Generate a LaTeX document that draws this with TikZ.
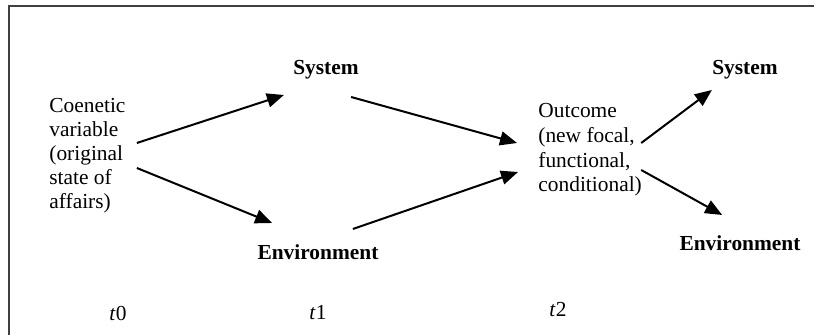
\documentclass[tikz,border=0pt]{standalone}
\usepackage{fontspec}
\setmainfont{Liberation Serif}
\usetikzlibrary{arrows.meta}

\begin{document}
\begin{tikzpicture}[
      x=0.5pt, y=-0.5pt,
      font=\fontsize{10.7}{12}\selectfont,
      tbox/.style={inner sep=0pt, align=left, anchor=west},
      sbox/.style={inner sep=0pt, font=\fontsize{10.7}{12}\selectfont\bfseries},
      tlab/.style={inner sep=0pt},
      arr/.style={-{Triangle[length=8.5pt,width=7pt]}, line width=1pt},
      frame/.style={line width=0.9pt, draw=black!75},
    ]
      \useasboundingbox (0,0) rectangle (814,335);
      % Frame
      \draw[frame] (814,6) -- (9,6) -- (9,335);

      % Time t0
      \node[tbox] (coen) at (49,156)
            {Coenetic\\variable\\(original\\state of\\affairs)};

      % Time t1
      \node[sbox] (sys1) at (326,70) {System};
      \node[sbox] (env1) at (318,252) {Environment};

      % Time t2
      \node[tbox, font=\fontsize{10.7}{12.3}\selectfont] (out) at (538,150)
            {Outcome\\(new focal,\\functional,\\conditional)};
      \node[sbox] (sys2) at (745,70) {System};
      \node[sbox] (env2) at (740,243) {Environment};

      % Time labels
      \node[tlab] (t0) at (118,313) {\textit{t}0};
      \node[tlab] (t1) at (318,313) {\textit{t}1};
      \node[tlab] (t2) at (558,310) {\textit{t}2};

      % Arrows
      \draw[arr] ([shift={(11,-13)}]coen.east) -- ([shift={(-9,25)}]sys1.west);
      \draw[arr] ([shift={(11,12)}]coen.east)  -- ([shift={(15,-29)}]env1.west);
      \draw[arr] ([shift={(-8,27)}]sys1.east)  -- ([shift={(-21,-7)}]out.west);
      \draw[arr] ([shift={(-26,-23)}]env1.east) -- ([shift={(-20,22)}]out.west);
      \draw[arr] ([shift={(-1,-7)}]out.east)   -- ([shift={(0,20)}]sys2.west);
      \draw[arr] ([shift={(-1,20)}]out.east)   -- ([shift={(43,-28)}]env2.west);
    \end{tikzpicture}
\end{document}
